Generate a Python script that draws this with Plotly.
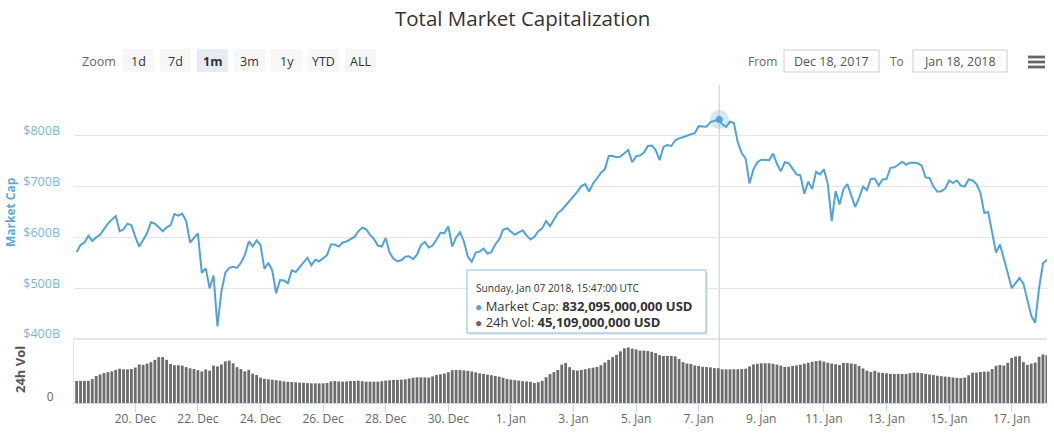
import plotly.graph_objects as go
import pandas as pd

# ---------------- DATA ----------------
sample_start = "2017-12-18 03:00"
sample_count = 249
sample_step = "3h"
times = pd.date_range(sample_start, periods=sample_count, freq=sample_step)

# Total market capitalization, billions USD (3h samples)
market_cap_b = [
    571, 585, 590, 603, 593, 600, 605, 616, 627, 635,
    642, 612, 616, 627, 624, 601, 582, 595, 608, 630,
    627, 620, 612, 620, 624, 646, 643, 647, 632, 590,
    598, 608, 530, 539, 500, 525, 425, 493, 530, 540,
    542, 540, 550, 565, 592, 582, 594, 585, 538, 550,
    535, 490, 516, 515, 510, 535, 532, 542, 552, 560,
    545, 556, 553, 559, 565,
    586, 586, 582, 590, 592, 596, 601, 612, 619, 616,
    605, 597, 584, 582, 599, 570, 558, 553, 555, 562,
    563, 557, 566, 585, 591, 580, 584, 596, 609, 608,
    622, 582, 600, 610, 592, 562, 552, 570, 572, 578,
    568, 571, 586, 596, 615, 618, 612, 605, 610, 614,
    604, 596, 601, 612, 618, 632, 622, 636, 648, 654,
    663, 670, 681,
    690, 701, 705, 690, 706, 716, 727, 734, 760, 760,
    758, 759, 765, 772, 748, 760, 761, 767, 780, 781,
    772, 752, 778, 782, 780, 791, 795, 797, 800, 803,
    805, 819, 818, 818, 827, 829, 832, 823, 817, 828,
    825, 787, 766, 755, 706, 734, 748, 753, 753, 752,
    765, 745, 730, 748, 746, 735, 724, 722, 686, 710,
    695, 729, 724,
    734, 705, 632, 691, 665, 695, 705, 683, 660, 678,
    700, 693, 715, 716, 702, 714, 715, 737, 738, 743,
    749, 743, 747, 747, 746, 741, 718, 717, 700, 690,
    691, 696, 712, 707, 712, 702, 700, 714, 712, 705,
    688, 648, 650, 610, 570, 586, 555, 530, 500, 510,
    520, 509, 478, 446, 432, 500, 549, 556,
]

# 24h volume, billions USD (3h samples)
volume_b = [
    28.6, 28.6, 28.6, 28.8, 31, 35, 37, 38.8, 40, 41,
    43, 44.5, 43.7, 43.7, 44, 46, 50, 49.5, 51, 53,
    56, 59.5, 59.5, 56, 50.5, 49, 49, 48.5, 46.5, 45,
    44, 42.5, 41, 43.5, 42, 48.5, 47.5, 50, 54, 55,
    51.5, 46.5, 44, 41, 43, 38, 36.3, 33, 31.5, 30.8,
    30.2, 29.6, 29, 28, 27.5, 27.2, 26.8, 26.4, 26.2, 25.8,
    25.5, 25.5, 25.5, 25.5, 26, 28, 28.6, 28, 27.7, 28,
    28.6, 28.6, 29, 28.3, 27.7, 27.7, 27.7, 27.7, 28.3, 29,
    29.5, 29.9, 30, 30.3, 30.7, 31.8, 32.8, 33.3, 33.3, 33.2,
    32.9, 34.5, 36.4, 37.2, 38.2, 40, 42.5, 42.8, 42.8, 42.3,
    41.7, 40.9, 39.8, 38.5, 37.6, 36.8, 36, 35.2, 34.2, 32.8,
    31.3, 30.3, 29.6, 29, 28.4, 27.9, 27.6, 26, 27, 28.8,
    33.5, 37.5, 40, 42.8,
    49.8, 52, 46.5, 42.7, 42, 43, 43.8, 45, 45.8, 46.8,
    49, 52.5, 56, 59.5, 62.5, 67, 71, 72, 70.5, 69.5,
    68, 68, 67.5, 66.3, 64.7, 62, 61, 61, 61, 60.5,
    57, 53, 51.3, 50.6, 48.7, 48, 47, 46.6, 46.2, 45.3,
    45.1, 43.7, 43.7, 43.7, 43.7, 43.7, 44, 44.5, 47.5, 50,
    50.8, 51.5, 51.5, 51.5, 50.8, 49.8, 48.5, 46.8, 47, 48,
    48.8, 49.6, 51, 52.2, 53.5, 54.3, 55, 53.8, 52.2, 51.2,
    50.4, 49.4, 52, 51.8, 51.2, 50.4, 48, 44.8, 42, 40.3,
    41.8, 39.6, 39, 38.4, 37.8, 37.7, 37.7, 37.7, 37.7, 38.7,
    39.4, 39.4, 38.8, 37.7, 37, 36.2, 35.4, 34.8, 34.3, 33.8,
    33.2, 32.6, 32.3, 33, 36, 39.4, 39.4, 40.2, 40.7, 40.7,
    44, 48.2, 49.4, 48.5, 52, 58.5, 60.3, 60.8, 53, 49.5,
    51, 52.5, 60, 63, 62,
]

cap_tick_vals = [400, 500, 600, 700, 800, 900]
cap_tick_text = ["$400B", "$500B", "$600B", "$700B", "$800B", ""]
vol_tick_vals = [0]
vol_tick_text = ["0"]

x_tick_dates = ["2017-12-20", "2017-12-22", "2017-12-24", "2017-12-26", "2017-12-28",
                "2017-12-30", "2018-01-01", "2018-01-03", "2018-01-05", "2018-01-07",
                "2018-01-09", "2018-01-11", "2018-01-13", "2018-01-15", "2018-01-17"]
x_tick_labels = ["20. Dec", "22. Dec", "24. Dec", "26. Dec", "28. Dec", "30. Dec", "1. Jan",
                 "3. Jan", "5. Jan", "7. Jan", "9. Jan", "11. Jan", "13. Jan", "15. Jan", "17. Jan"]

hover_time = "2018-01-07 15:47"
hover_label = "Sunday, Jan 07 2018, 15:47:00 UTC"
hover_cap_usd = 832095000000
hover_vol_usd = 45109000000

zoom_labels = ["1d", "7d", "1m", "3m", "1y", "YTD", "ALL"]
zoom_selected = "1m"
range_from = "Dec 18, 2017"
range_to = "Jan 18, 2018"
title_text = "Total Market Capitalization"

# ---------------- LAYOUT HELPERS ----------------
W, H = 1054, 439
ML, MR, MT, MB = 74, 7, 85, 36
PW, PH = W - ML - MR, H - MT - MB


def px(x):
    return (x - ML) / PW


def py(y):
    return (H - MB - y) / PH


FONT = "Open Sans"
LINE_COLOR = "#52a3d5"
split = py(339)

fig = go.Figure()
fig.add_trace(go.Bar(x=times, y=volume_b, marker=dict(color="#6c6c6c", line=dict(width=0)),
                     xaxis="x", yaxis="y2"))
fig.add_trace(go.Scatter(x=times, y=market_cap_b, mode="lines",
                         line=dict(color=LINE_COLOR, width=2), xaxis="x", yaxis="y"))
fig.add_trace(go.Scatter(x=[hover_time], y=[hover_cap_usd / 1e9], mode="markers",
                         marker=dict(size=19, color="rgba(82,163,213,0.25)"), xaxis="x", yaxis="y"))
fig.add_trace(go.Scatter(x=[hover_time], y=[hover_cap_usd / 1e9], mode="markers",
                         marker=dict(size=7, color=LINE_COLOR), xaxis="x", yaxis="y"))

shapes = []
annotations = []

# crosshair
shapes.append(dict(type="line", xref="x", yref="paper", x0=hover_time, x1=hover_time, y0=0, y1=1,
                   line=dict(color="#cccccc", width=1), layer="below"))
# volume panel top border
shapes.append(dict(type="line", xref="paper", yref="paper", x0=0, x1=1, y0=split, y1=split,
                   line=dict(color="#dcdcdc", width=1.5)))

# title
annotations.append(dict(text=title_text, x=px(522), y=py(18), xref="paper", yref="paper",
                        showarrow=False, xanchor="center", yanchor="middle",
                        font=dict(family=FONT, size=20.5, color="#333333")))

# zoom toolbar
annotations.append(dict(text="Zoom", x=px(118), y=py(61), xref="paper", yref="paper",
                        showarrow=False, xanchor="right", yanchor="middle",
                        font=dict(family=FONT, size=12.5, color="#666666")))
for k, lab in enumerate(zoom_labels):
    x0 = 123 + 37 * k
    sel = lab == zoom_selected
    shapes.append(dict(type="rect", xref="paper", yref="paper", x0=px(x0), x1=px(x0 + 31),
                       y0=py(72), y1=py(49), line=dict(width=0),
                       fillcolor="#e6ebf5" if sel else "#f7f7f7"))
    annotations.append(dict(text=f"<b>{lab}</b>" if sel else lab, x=px(x0 + 15.5), y=py(61),
                            xref="paper", yref="paper", showarrow=False,
                            xanchor="center", yanchor="middle",
                            font=dict(family=FONT, size=12.5, color="#333333")))

# From / To inputs
annotations.append(dict(text="From", x=px(762), y=py(61), xref="paper", yref="paper",
                        showarrow=False, xanchor="center", yanchor="middle",
                        font=dict(family=FONT, size=12, color="#666666")))
annotations.append(dict(text="To", x=px(897), y=py(61), xref="paper", yref="paper",
                        showarrow=False, xanchor="center", yanchor="middle",
                        font=dict(family=FONT, size=12, color="#666666")))
for (a, b), txt in [((784, 879), range_from), ((913, 1007), range_to)]:
    shapes.append(dict(type="rect", xref="paper", yref="paper", x0=px(a), x1=px(b),
                       y0=py(72), y1=py(50), line=dict(color="#cccccc", width=1),
                       fillcolor="white"))
    annotations.append(dict(text=txt, x=px((a + b) / 2), y=py(61), xref="paper", yref="paper",
                            showarrow=False, xanchor="center", yanchor="middle",
                            font=dict(family=FONT, size=12.5, color="#555555")))
# hamburger menu
for yy in (57, 62, 67):
    shapes.append(dict(type="rect", xref="paper", yref="paper", x0=px(1028), x1=px(1045),
                       y0=py(yy + 1.4), y1=py(yy - 1.4), line=dict(width=0), fillcolor="#666666"))

# axis titles
annotations.append(dict(text="<b>Market Cap</b>", x=px(10), y=py(212), xref="paper", yref="paper",
                        showarrow=False, xanchor="center", yanchor="middle", textangle=-90,
                        font=dict(family=FONT, size=12, color="#5fa8d3")))
annotations.append(dict(text="<b>24h Vol</b>", x=px(20), y=py(370), xref="paper", yref="paper",
                        showarrow=False, xanchor="center", yanchor="middle", textangle=-90,
                        font=dict(family=FONT, size=13, color="#555555")))

# tooltip
shapes.append(dict(type="rect", xref="paper", yref="paper", x0=px(469), x1=px(708),
                   y0=py(335), y1=py(272), line=dict(width=0), fillcolor="rgba(0,0,0,0.08)"))
shapes.append(dict(type="rect", xref="paper", yref="paper", x0=px(467), x1=px(706),
                   y0=py(333), y1=py(270), line=dict(color="#8dbbdc", width=1),
                   fillcolor="rgba(255,255,255,0.96)"))
annotations.append(dict(text=hover_label, x=px(474), y=py(288), xref="paper", yref="paper",
                        showarrow=False, xanchor="left", yanchor="middle",
                        font=dict(family=FONT, size=10.2, color="#333333")))
annotations.append(dict(
    text=f"<span style='color:{LINE_COLOR};font-size:12px'>●</span> Market Cap: <b>{hover_cap_usd:,} USD</b>",
    x=px(473), y=py(306), xref="paper", yref="paper", showarrow=False, xanchor="left", yanchor="middle",
    font=dict(family=FONT, size=13, color="#333333")))
annotations.append(dict(
    text=f"<span style='color:#666666;font-size:12px'>●</span> 24h Vol: <b>{hover_vol_usd:,} USD</b>",
    x=px(473), y=py(322), xref="paper", yref="paper", showarrow=False, xanchor="left", yanchor="middle",
    font=dict(family=FONT, size=13, color="#333333")))

fig.update_layout(
    width=W, height=H, autosize=False,
    margin=dict(l=ML, r=MR, t=MT, b=MB, pad=0),
    paper_bgcolor="white", plot_bgcolor="white",
    showlegend=False, hovermode=False, bargap=0.28,
    font=dict(family=FONT, size=11, color="#666666"),
    xaxis=dict(type="date", domain=[0, 1], anchor="y2",
               range=["2017-12-18 01:00", "2018-01-18 03:05"],
               tickvals=x_tick_dates, ticktext=x_tick_labels,
               ticks="outside", ticklen=8, tickcolor="#ccd6eb", tickwidth=1,
               ticklabelstandoff=-3,
               showline=True, linecolor="#ccd6eb", linewidth=1,
               showgrid=False, zeroline=False,
               tickfont=dict(family=FONT, size=12, color="#666666")),
    yaxis=dict(domain=[split, 1], range=[400, 900], anchor="x",
               tickvals=cap_tick_vals, ticktext=cap_tick_text,
               showgrid=True, gridcolor="#e6e6e6", gridwidth=1, zeroline=False,
               ticks="", ticklabelshift=-5, ticklabelstandoff=13,
               tickfont=dict(family=FONT, size=12.5, color="#7ab6dc")),
    yaxis2=dict(domain=[0, split], range=[0, 83], anchor="x",
                tickvals=vol_tick_vals, ticktext=vol_tick_text,
                showgrid=False, zeroline=False, showline=True, linecolor="#e6e6e6", linewidth=1,
                ticks="", ticklabelshift=-6, ticklabelstandoff=17,
                tickfont=dict(family=FONT, size=12, color="#666666")),
    shapes=shapes, annotations=annotations,
)

fig.write_html("out.html", config={"displayModeBar": False},
               post_script="document.body.style.margin='0px';")
